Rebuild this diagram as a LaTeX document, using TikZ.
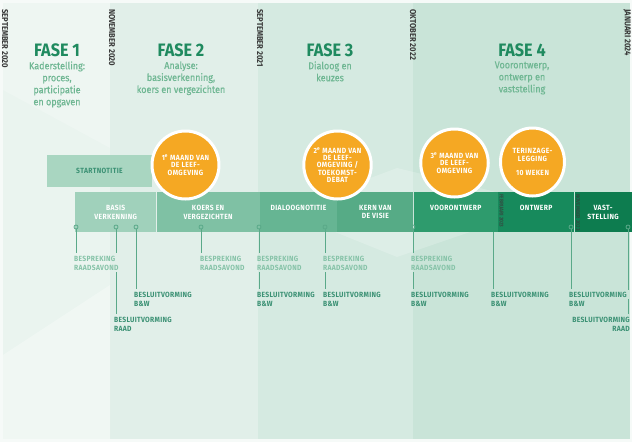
\documentclass[tikz,border=0pt]{standalone}
\usepackage{fontspec}
\setmainfont{Fira Sans}[FakeStretch=0.9]
\usetikzlibrary{positioning, calc, shapes.geometric}

\definecolor{rand}{HTML}{F6FAF8}
\definecolor{fase1kleur}{HTML}{EAF4EF}
\definecolor{fase2kleur}{HTML}{E1EFE9}
\definecolor{fase3kleur}{HTML}{D5EAE1}
\definecolor{fase4kleur}{HTML}{C9E4D8}
\definecolor{titelgroen}{HTML}{1F8A5F}
\definecolor{subgroen}{HTML}{6FB793}
\definecolor{datumgrijs}{HTML}{3A3A3A}
\definecolor{startkleur}{HTML}{A9D6C1}
\definecolor{basiskleur}{HTML}{A0D1BB}
\definecolor{koerskleur}{HTML}{7FC1A4}
\definecolor{dialoogkleur}{HTML}{66B593}
\definecolor{kernkleur}{HTML}{56AB86}
\definecolor{voorkleur}{HTML}{2E9B6D}
\definecolor{ontwerpkleur}{HTML}{178A5C}
\definecolor{vastkleur}{HTML}{0D7C4F}
\definecolor{oranje}{HTML}{F5A823}
\definecolor{lijngroen}{HTML}{5AA989}
\definecolor{lichtlabel}{HTML}{86C3A8}
\definecolor{donkerlabel}{HTML}{3B9174}

\begin{document}
\begin{tikzpicture}
    [
        x=1pt, y=-1pt,
        fasetitel/.style={
            text=titelgroen,
            inner sep=0pt,
            font=\bfseries\fontsize{18}{20}\selectfont
        },
        fasetekst/.style={
            text=subgroen,
            align=center,
            inner sep=0pt,
            font=\fontsize{10}{12}\selectfont\addfontfeatures{FakeBold=0.5}
        },
        datum/.style={
            rotate=-90,
            anchor=west,
            inner sep=0pt,
            text=datumgrijs,
            font=\bfseries\fontsize{8.5}{9}\selectfont
        },
        kleindatum/.style={
            datum,
            text=datumgrijs,
            opacity=.75,
            font=\bfseries\fontsize{5.5}{6}\selectfont
        },
        balk/.style={
            rectangle,
            minimum height=40pt,
            inner sep=0pt,
            align=center,
            text=white,
            font=\bfseries\fontsize{7.5}{8.5}\selectfont\addfontfeatures{LetterSpace=5}
        },
        maand/.style={
            ellipse,
            fill=oranje,
            draw=white,
            line width=3pt,
            minimum width=64pt,
            minimum height=68pt,
            inner sep=0pt,
            align=center,
            text=white,
            font=\bfseries\fontsize{7.5}{7.2}\selectfont\addfontfeatures{LetterSpace=6}
        },
        punt/.style={
            circle,
            draw=lijngroen,
            line width=0.8pt,
            minimum size=4pt,
            inner sep=0pt
        },
        bespreking/.style={
            anchor=north west,
            align=left,
            inner sep=0pt,
            text=lichtlabel,
            font=\bfseries\fontsize{7.5}{8.5}\selectfont\addfontfeatures{LetterSpace=4}
        },
        besluit/.style={
            bespreking,
            text=donkerlabel
        },
        lijn/.style={
            draw=lijngroen,
            line width=1pt
        }
    ]
    \useasboundingbox (0,0) rectangle (632,442);

    % achtergrond per fase
    \fill[rand] (0,0) rectangle (632,442);
    \fill[fase1kleur] (3,3) rectangle (110,439);
    \fill[fase2kleur] (110,3) rectangle (258,439);
    \fill[fase3kleur] (258,3) rectangle (413,439);
    \fill[fase4kleur] (413,3) rectangle (630,439);
    \fill[white, opacity=.2] (3,3) -- (110,3) -- (110,148) -- (3,90) -- cycle;
    \fill[white, opacity=.3] (3,355) -- (110,285) -- (110,439) -- (3,439) -- cycle;
    \fill[white, opacity=.2] (333,192) -- (397,168) -- (496,192) -- cycle;
    \fill[white, opacity=.2] (335,232) -- (397,257) -- (470,232) -- cycle;

    % fasen
    \node[fasetitel] (fase1) at (57,50) {FASE 1};
    \node[fasetekst, below=4.5pt of fase1] (tekst1) {Kaderstelling:\\proces,\\participatie\\en opgaven};
    \node[fasetitel] (fase2) at (181,50) {FASE 2};
    \node[fasetekst, below=4.5pt of fase2] (tekst2) {Analyse:\\basisverkenning,\\koers en vergezichten};
    \node[fasetitel] (fase3) at (330,50) {FASE 3};
    \node[fasetekst, below=4.5pt of fase3] (tekst3) {Dialoog en\\keuzes};
    \node[fasetitel] (fase4) at (522,50) {FASE 4};
    \node[fasetekst, below=4.5pt of fase4] (tekst4) {Voorontwerp,\\ontwerp en\\vaststelling};

    % data
    \node[datum] (sep2020) at (5,9) {SEPTEMBER 2020};
    \node[datum] (nov2020) at (112,9) {NOVEMBER 2020};
    \node[datum] (sep2021) at (260,9) {SEPTEMBER 2021};
    \node[datum] (okt2022) at (413,9) {OKTOBER 2022};
    \node[datum] (jan2024) at (627,9) {JANUARI 2024};

    % startnotitie en balk
    \node[balk, fill=startkleur, minimum width=105pt, minimum height=32pt, text=donkerlabel] (start) at (99.5,171) {STARTNOTITIE};
    \node[balk, fill=basiskleur, minimum width=81pt, anchor=north west] (basis) at (75,192) {BASIS\\VERKENNING};
    \node[balk, fill=koerskleur, minimum width=103pt, right=0pt of basis] (koers) {KOERS EN\\VERGEZICHTEN};
    \node[balk, fill=dialoogkleur, minimum width=77pt, right=0pt of koers] (dialoog) {DIALOOGNOTITIE\\\mbox{}};
    \node[balk, fill=kernkleur, minimum width=76pt, right=0pt of dialoog] (kern) {KERN VAN\\DE VISIE};
    \node[balk, fill=voorkleur, minimum width=84pt, right=0pt of kern] (voor) {VOORONTWERP\\\mbox{}};
    \node[balk, fill=ontwerpkleur, minimum width=76pt, right=0pt of voor] (ontwerp) {ONTWERP\\\mbox{}};
    \node[balk, fill=vastkleur, minimum width=57pt, right=0pt of ontwerp] (vast) {VAST-\\STELLING};
    \node[kleindatum] (feb2023) at (501.5,194) {FEBRUARI 2023};
    \node[kleindatum] (nov2023) at (578,194) {NOVEMBER 2023};

    % maanden van de leefomgeving
    \node[maand] (maand1) at (185.5,165) {1\textsuperscript{e} MAAND VAN\\DE LEEF-\\OMGEVING};
    \node[maand] (maand2) at (337.5,165) {2\textsuperscript{e} MAAND VAN\\DE LEEF-\\OMGEVING /\\TOEKOMST-\\DEBAT};
    \node[maand] (maand3) at (454.5,163) {3\textsuperscript{e} MAAND VAN\\DE LEEF-\\OMGEVING};
    \node[maand] (maand4) at (532.5,162) {TERINZAGE-\\LEGGING\\[7pt]10 WEKEN};

    % momenten op de balk
    \node[punt] (p1) at (76,227) {};
    \node[punt] (p2) at (116,227) {};
    \node[punt] (p3) at (136,227) {};
    \node[punt] (p4) at (201,227) {};
    \node[punt] (p5) at (259,227) {};
    \node[punt] (p6) at (325,227) {};
    \node[punt] (p7) at (413,227) {};
    \coordinate (p8) at (493,232);
    \node[punt] (p9) at (571,227) {};
    \node[punt] (p10) at (628,227) {};

    % besprekingen en besluiten
    \node[bespreking] (bsp1) at (74,256) {BESPREKING\\RAADSAVOND};
    \node[besluit] (raad1) at (114,317) {BESLUITVORMING\\RAAD};
    \node[besluit] (bw1) at (134,292) {BESLUITVORMING\\B\&W};
    \node[bespreking] (bsp2) at (200,256) {BESPREKING\\RAADSAVOND};
    \node[bespreking] (bsp3) at (257,256) {BESPREKING\\RAADSAVOND};
    \node[besluit] (bw2) at (257,292) {BESLUITVORMING\\B\&W};
    \node[bespreking] (bsp4) at (323,256) {BESPREKING\\RAADSAVOND};
    \node[besluit] (bw3) at (323,292) {BESLUITVORMING\\B\&W};
    \node[bespreking] (bsp5) at (411,256) {BESPREKING\\RAADSAVOND};
    \node[besluit] (bw4) at (411,292) {BESLUITVORMING\\B\&W};
    \node[besluit] (bw5) at (491,292) {BESLUITVORMING\\B\&W};
    \node[besluit] (bw6) at (569,292) {BESLUITVORMING\\B\&W};
    \node[besluit, anchor=north east, align=right] (raad2) at (630,317) {BESLUITVORMING\\RAAD};

    % verbindingslijnen
    \draw[lijn, shorten >=3pt] (p1) -- (p1 |- bsp1.north);
    \draw[lijn, shorten >=3pt] (p2) -- (p2 |- bsp1.north);
    \draw[lijn, shorten <=2pt, shorten >=3pt] (p2 |- bsp1.south) -- (p2 |- raad1.north);
    \draw[lijn, shorten >=3pt] (p3) -- (p3 |- bw1.north);
    \draw[lijn, shorten >=3pt] (p4) -- (p4 |- bsp2.north);
    \draw[lijn, shorten >=3pt] (p5) -- (p5 |- bsp3.north);
    \draw[lijn, shorten <=2pt, shorten >=3pt] (p5 |- bsp3.south) -- (p5 |- bw2.north);
    \draw[lijn, shorten >=3pt] (p6) -- (p6 |- bsp4.north);
    \draw[lijn, shorten <=2pt, shorten >=3pt] (p6 |- bsp4.south) -- (p6 |- bw3.north);
    \draw[lijn, shorten >=3pt] (p7) -- (p7 |- bsp5.north);
    \draw[lijn, shorten <=2pt, shorten >=3pt] (p7 |- bsp5.south) -- (p7 |- bw4.north);
    \draw[lijn, shorten >=3pt] (p8) -- (p8 |- bw5.north);
    \draw[lijn, shorten >=3pt] (p9) -- (p9 |- bw6.north);
    \draw[lijn, shorten >=2pt] (p10) -- (p10 |- bw6.north);
    \draw[lijn, shorten >=3pt] ($(p10 |- bw6.north)+(0,7)$) -- (p10 |- raad2.north);
\end{tikzpicture}
\end{document}
